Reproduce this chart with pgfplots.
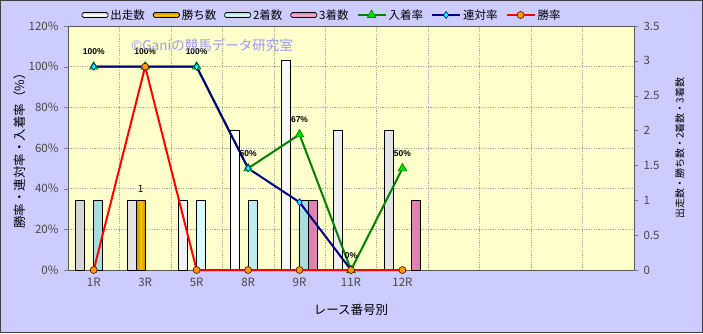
\documentclass[border=0pt]{standalone}
\usepackage{pgfplots}
\pgfplotsset{compat=1.18}
\usepackage{fontspec}
\setmainfont{Noto Sans CJK JP}
\newfontfamily\lblfont{Liberation Sans}
\definecolor{outerbg}{HTML}{CCCCFF}
\definecolor{plotbg}{HTML}{FFFFCC}
\definecolor{gridc}{HTML}{A8A8A8}
\definecolor{wm}{HTML}{9A9AEE}
\definecolor{lnG}{HTML}{008000}
\definecolor{lnB}{HTML}{000080}
\definecolor{lnR}{HTML}{FF0000}
\definecolor{mkG}{HTML}{00DD00}
\definecolor{mkB}{HTML}{00FFFF}
\definecolor{mkR}{HTML}{FF9900}
\definecolor{wL}{HTML}{D4D4D4}
\definecolor{wR}{HTML}{E4E4E4}
\definecolor{gL}{HTML}{C89600}
\definecolor{gM}{HTML}{F5C400}
\definecolor{cL}{HTML}{A4DCDC}
\definecolor{cM}{HTML}{D8FAFA}
\definecolor{pL}{HTML}{DC80AC}
\definecolor{pM}{HTML}{F8A8D0}
\pgfplotsset{
  base/.style={
    scale only axis, width=566pt, height=244pt,
    at={(68pt,63pt)}, anchor=south west,
    xmin=-0.5, xmax=10.5,
    clip=false,
    /pgf/number format/assume math mode=true,
    tick label style={font=\fontsize{11.5}{13}\selectfont, text=black!72},
    label style={font=\fontsize{12.5}{14}\selectfont, text=black},
  },
}
\begin{document}
\begin{tikzpicture}
\useasboundingbox (0pt,0pt) rectangle (703pt,333pt);
\fill[outerbg] (0pt,0pt) rectangle (703pt,333pt);
\draw[black!75, line width=1.2pt] (0.6pt,0.6pt) rectangle (702.4pt,332.4pt);
% frame, grid, left axis, x labels
\begin{axis}[base,
  axis background/.style={fill=plotbg},
  axis line style={black!65},
  ymin=0, ymax=120, ytick={0,20,...,120},
  yticklabel={\pgfmathprintnumber{\tick}\%},
  yticklabel style={xshift=-2pt},
  ytick pos=left, tick align=outside, major tick length=4pt,
  xtick={0,...,6}, xticklabels={1R,3R,5R,8R,9R,11R,12R},
  xticklabel style={yshift=-1pt},
  xtick style={draw=none},
  minor xtick={0.5,1.5,...,9.5},
  minor tick length=0pt,
  xminorgrids, ymajorgrids,
  grid style={gridc, dash pattern=on 1.2pt off 1.2pt, line width=0.5pt},
  ylabel={勝率・連対率・入着率（\%）},
  ylabel style={at={(axis description cs:-0.085,0.5)}, anchor=center},
  xlabel={レース番号別},
  xlabel style={at={(axis description cs:0.5,-0.164)}, anchor=center},
]
\end{axis}
% bars, right axis
\begin{axis}[base,
  hide x axis,
  axis y line*=right,
  axis line style={black!65},
  ymin=0, ymax=3.5, ytick={0,0.5,1,1.5,2,2.5,3,3.5},
  yticklabel style={xshift=2pt},
  tick align=outside, major tick length=4pt,
  ylabel={出走数・勝ち数・2着数・3着数},
  every axis y label/.style={at={(axis description cs:1.081,0.5)}, rotate=90, anchor=center},
  ybar=0pt, bar width=9pt,
]
\addplot[draw=black, line width=0.8pt, left color=wL, right color=wR, middle color=white]
  coordinates {(0,1) (1,1) (2,1) (3,2) (4,3) (5,2) (6,2)};
\addplot[draw=black, line width=0.8pt, left color=gL, right color=gL, middle color=gM,
  nodes near coords, every node near coord/.append style={font=\fontsize{10}{11}\selectfont, text=black, yshift=4pt}]
  coordinates {(1,1)};
\addplot[draw=black, line width=0.8pt, left color=cL, right color=cL, middle color=cM]
  coordinates {(0,1) (2,1) (3,1) (4,1)};
\addplot[draw=black, line width=0.8pt, left color=pL, right color=pL, middle color=pM]
  coordinates {(4,1) (6,1)};
\end{axis}
% lines, left scale
\begin{axis}[base, hide axis, ymin=0, ymax=120,
  legend image code/.code={\draw[mark repeat=2,mark phase=2,#1] plot coordinates {(0pt,0pt) (14pt,0pt) (28pt,0pt)};},
  legend style={at={(rel axis cs:0.449,1.045)}, anchor=center, draw=none, fill=none,
    legend columns=7, font=\fontsize{11.5}{13}\selectfont,
    /tikz/every even column/.append style={column sep=6pt}},
]
\addlegendimage{legend image code/.code={\draw[black, line width=0.8pt, rounded corners=1.5pt, top color=wL, bottom color=wL, middle color=white] (0pt,-2.5pt) rectangle (26pt,2.5pt);}}
\addlegendentry{出走数}
\addlegendimage{legend image code/.code={\draw[black, line width=0.8pt, rounded corners=1.5pt, top color=gL, bottom color=gL, middle color=gM] (0pt,-2.5pt) rectangle (26pt,2.5pt);}}
\addlegendentry{勝ち数}
\addlegendimage{legend image code/.code={\draw[black, line width=0.8pt, rounded corners=1.5pt, top color=cL, bottom color=cL, middle color=cM] (0pt,-2.5pt) rectangle (26pt,2.5pt);}}
\addlegendentry{2着数}
\addlegendimage{legend image code/.code={\draw[black, line width=0.8pt, rounded corners=1.5pt, top color=pL, bottom color=pL, middle color=pM] (0pt,-2.5pt) rectangle (26pt,2.5pt);}}
\addlegendentry{3着数}
\addplot[lnG, line width=2pt, mark=triangle*, mark size=5pt,
  mark options={fill=mkG, draw=lnG, line width=0.6pt},
  nodes near coords={\pgfmathprintnumber[fixed,precision=0]{\pgfplotspointmeta}\%},
  every node near coord/.append style={font=\fontsize{8.5}{9}\lblfont\bfseries, text=black, anchor=south, yshift=8pt}]
  coordinates {(0,100) (1,100) (2,100) (3,50) (4,66.67) (5,0) (6,50)};
\addlegendentry{入着率}
\addplot[lnB, line width=2pt, mark=diamond*, mark size=3.5pt,
  mark options={fill=mkB, draw=lnB, line width=0.6pt}]
  coordinates {(0,100) (1,100) (2,100) (3,50) (4,33.33) (5,0)};
\addlegendentry{連対率}
\addplot[lnR, line width=2pt, mark=*, mark size=3.5pt,
  mark options={fill=mkR, draw=black!70!red, line width=0.6pt}]
  coordinates {(0,0) (1,100) (2,0) (3,0) (4,0) (5,0) (6,0)};
\addlegendentry{勝率}
\end{axis}
\node[text=wm, font=\fontsize{13.5}{15}\selectfont, anchor=west, inner sep=0pt] at (131pt,288pt) {©Ganiの競馬データ研究室};
\end{tikzpicture}
\end{document}
